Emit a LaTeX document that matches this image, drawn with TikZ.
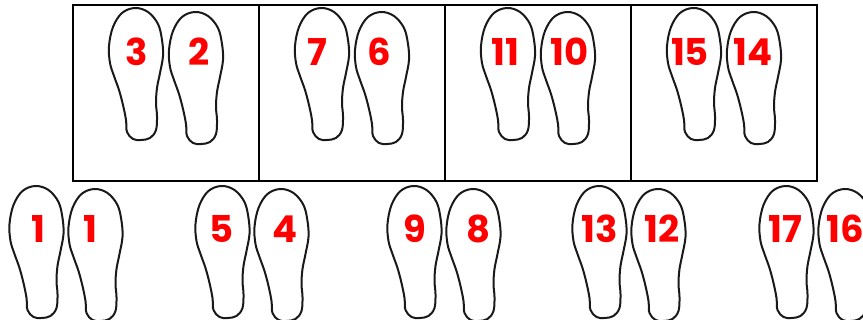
\documentclass[tikz,border=0pt]{standalone}
\usepackage{fontspec}
\newfontfamily\numfont{Poppins}
\begin{document}
\begin{tikzpicture}[x=1pt,y=-1pt,
  footline/.style={draw=black!90,line width=2pt,line join=round},
  boxline/.style={draw=black,line width=1.8pt},
  num/.style={text=red,font=\numfont\bfseries\fontsize{37}{37}\selectfont,inner sep=0pt,anchor=center},
  % left footprint outline, origin at the top of its bounding box (centre)
  lfoot/.pic={\draw[footline] plot[smooth cycle,tension=0.6] coordinates {
      (-1,0) (-14,5) (-23,19) (-27,38) (-26,55) (-22,68) (-17,82) (-13,97)
      (-10,112) (-9,124) (-3,131) (5,132) (14,130) (20,122) (21,108)
      (20,95) (21,80) (24,65) (27,48) (26,32) (22,16) (12,4)};},
  rfoot/.pic={\begin{scope}[xscale=-1]\pic{lfoot};\end{scope}}
]
\useasboundingbox (0,0) rectangle (863,320);
\fill[white] (0,0) rectangle (863,320);

% framed row of four boxes
\draw[boxline] (73,5) rectangle (817,181);
\foreach \xx in {259,445,631}
  \draw[boxline] (\xx,5) -- (\xx,181);

% footprints in the boxes
\foreach \px in {166,352,538,724}{
  \pic at (\px-30,8) {lfoot};
  \pic at (\px+30,12) {rfoot};
}
% footprints on the floor row
\foreach \px in {66,252,444,629,816}{
  \pic at (\px-29.5,186) {lfoot};
  \pic at (\px+29.5,189) {rfoot};
}

% step numbers, upper row
\node[num] (n3)  at (137,52) {3};
\node[num] (n2)  at (199,52) {2};
\node[num] (n7)  at (317,52) {7};
\node[num] (n6)  at (379,52) {6};
\node[num] (n11) at (505,52) {11};
\node[num] (n10) at (570,52) {10};
\node[num] (n15) at (690,52) {15};
\node[num] (n14) at (753,52) {14};

% step numbers, lower row
\node[num] (n1a) at (38,229) {1};
\node[num] (n1b) at (90,229) {1};
\node[num] (n5)  at (222,229) {5};
\node[num] (n4)  at (285,229) {4};
\node[num] (n9)  at (415,229) {9};
\node[num] (n8)  at (478,229) {8};
\node[num] (n13) at (600,229) {13};
\node[num] (n12) at (662,229) {12};
\node[num] (n17) at (785,229) {17};
\node[num] (n16) at (845,229) {16};
\end{tikzpicture}
\end{document}
